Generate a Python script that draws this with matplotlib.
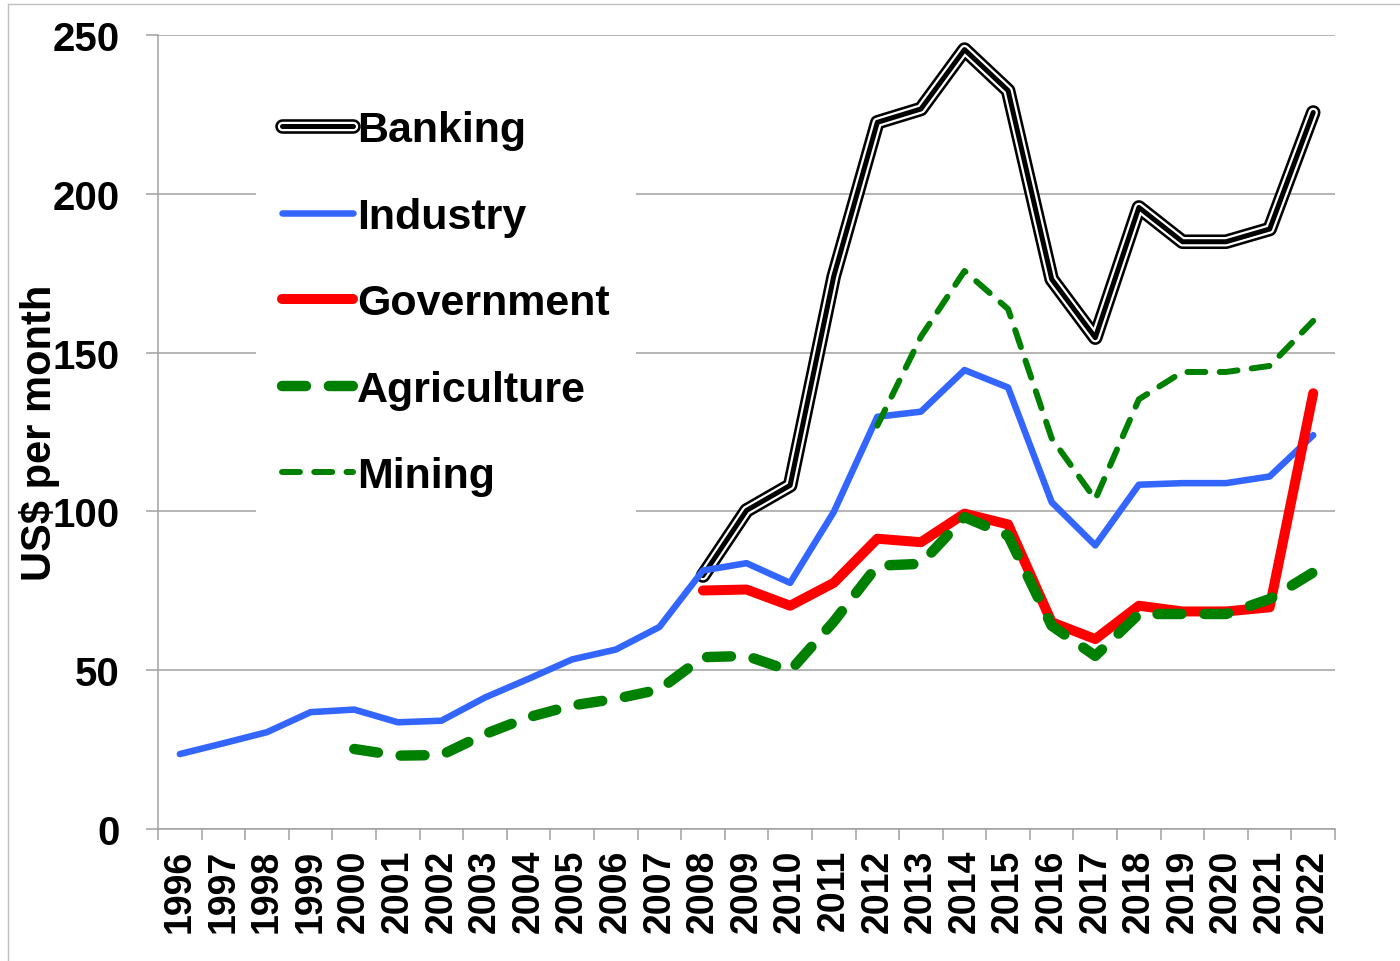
import numpy as np
import matplotlib
matplotlib.use("Agg")
import matplotlib.pyplot as plt
from matplotlib.lines import Line2D
from matplotlib.legend_handler import HandlerTuple

nan = np.nan

years = list(range(1996, 2023))

banking = [nan] * 12 + [79.8, 100.3, 108.2, 174.0, 222.5, 226.7, 245.4, 232.5,
                        173.1, 154.7, 195.7, 184.9, 184.9, 188.9, 225.6]
industry = [23.6, 27.0, 30.5, 36.8, 37.6, 33.6, 34.1, 41.4, 47.3, 53.4, 56.5,
            63.6, 81.4, 83.7, 77.5, 99.8, 129.8, 131.4, 144.5, 139.0, 102.9,
            89.3, 108.4, 108.9, 108.9, 111.0, 124.0]
government = [nan] * 12 + [75.1, 75.4, 70.3, 77.5, 91.4, 90.3, 99.3, 95.9,
                           65.1, 59.8, 70.3, 68.5, 68.5, 69.8, 137.2]
agriculture = [nan] * 4 + [25.2, 23.1, 23.3, 29.9, 35.2, 38.9, 41.0, 43.9,
                           54.1, 54.5, 49.8, 65.3, 82.9, 83.5, 98.2, 92.4,
                           64.0, 54.5, 67.7, 67.7, 67.7, 72.4, 80.8]
mining = [nan] * 16 + [127.0, 155.0, 175.7, 163.7, 123.0, 103.8, 135.3,
                       143.9, 143.9, 145.8, 160.0]

plt.rcParams['font.family'] = ['Liberation Sans', 'DejaVu Sans']
plt.rcParams['font.weight'] = 'bold'

GRAY = '#a0a0a0'
BLUE = '#3366ff'
GREEN = '#008000'
RED = '#ff0000'

fig = plt.figure(figsize=(14, 9.62), dpi=100)
ax = fig.add_axes([0.1129, 0.1372, 0.8407, 0.8254])
x = np.arange(len(years))

common = dict(solid_capstyle='round', solid_joinstyle='round',
              dash_capstyle='round', dash_joinstyle='round')

# banking: double line (black / white / black)
b1, = ax.plot(x, banking, color='black', lw=10.5, zorder=3, **common)
b2, = ax.plot(x, banking, color='white', lw=6.8, zorder=3, **common)
b3, = ax.plot(x, banking, color='black', lw=3.6, zorder=3, **common)
ind, = ax.plot(x, industry, color=BLUE, lw=4.7, zorder=4, **common)
gov, = ax.plot(x, government, color=RED, lw=7.2, zorder=5, **common)
agr, = ax.plot(x, agriculture, color=GREEN, lw=7.5, zorder=6,
               dashes=(2.3, 2.2), **common)
mnn, = ax.plot(x, mining, color=GREEN, lw=4.3, zorder=7,
               dashes=(3.0, 2.4), **common)

ax.set_xlim(-0.5, len(years) - 0.5)
ax.set_ylim(0, 250)

ax.set_yticks(range(0, 251, 50))
ax.tick_params(axis='y', length=8.6, width=1.1, color=GRAY, pad=19,
               labelsize=29)
ax.yaxis.grid(True, color=GRAY, lw=1.1)
ax.set_axisbelow(True)

ax.set_xticks(np.arange(-0.5, len(years)), labels=[])
ax.set_xticks(x, labels=[str(y) for y in years], minor=True)
ax.tick_params(axis='x', which='major', length=8, width=1.1, color=GRAY)
ax.tick_params(axis='x', which='minor', length=0, pad=14, labelsize=27,
               labelrotation=90)

for s in ['top', 'right']:
    ax.spines[s].set_visible(False)
for s in ['left', 'bottom']:
    ax.spines[s].set_color(GRAY)
    ax.spines[s].set_linewidth(1.1)

ax.set_ylabel("US$ per month", fontsize=30, fontweight='bold')
ax.yaxis.set_label_coords(-0.083, 0.5)

leg = ax.legend([(b1, b2, b3), ind, gov, agr, mnn],
                ["Banking", "Industry", "Government", "Agriculture", "Mining"],
                handler_map={tuple: HandlerTuple(ndivide=1)},
                loc='upper left', bbox_to_anchor=(0.065, 0.965),
                fontsize=31, frameon=True, framealpha=1, edgecolor='none',
                facecolor='white', handlelength=1.65, handletextpad=0.1,
                labelspacing=1.08, borderpad=0.6, fancybox=False)
leg.set_zorder(10)

# chart-area border (left and top edges)
fig.add_artist(Line2D([8 / 1400, 8 / 1400], [0, 1 - 5 / 962],
                      transform=fig.transFigure, color='#c0c0c0', lw=1))
fig.add_artist(Line2D([8 / 1400, 1], [1 - 5 / 962, 1 - 5 / 962],
                      transform=fig.transFigure, color='#c0c0c0', lw=1))

fig.savefig("out.png", dpi=100)
